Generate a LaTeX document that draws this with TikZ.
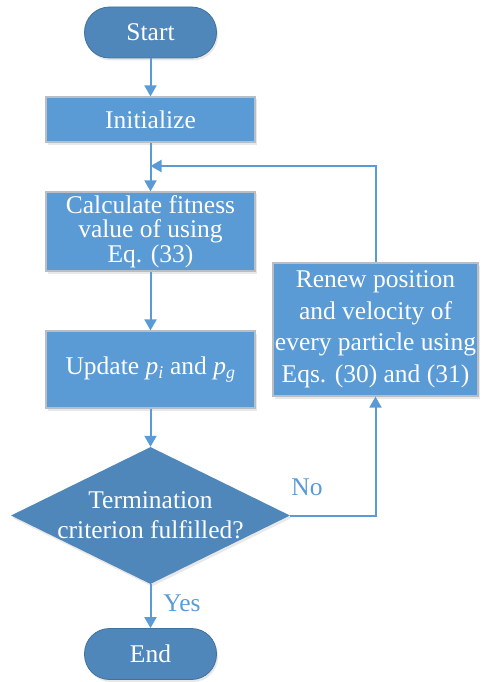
\documentclass[tikz,border=0pt]{standalone}
\usepackage{fontspec}
\setmainfont{Liberation Serif}
\usetikzlibrary{arrows.meta,shapes.geometric,shadows}
\definecolor{termfill}{HTML}{4F87BB}
\definecolor{termline}{HTML}{41719C}
\definecolor{boxfill}{HTML}{5B9BD5}
\definecolor{boxline}{HTML}{B8BEC4}
\definecolor{arrowc}{HTML}{5B9BD5}
\tikzset{
  shad/.style={drop shadow={opacity=0.18,shadow xshift=1.5pt,shadow yshift=-2.5pt}},
  term/.style={shad,rectangle,rounded corners=25pt,fill=termfill,draw=termline,line width=0.8pt,
    minimum width=132pt,minimum height=51pt,text=white,font=\fontsize{25.5}{30}\selectfont},
  procbox/.style={shad,rectangle,fill=boxfill,draw=boxline,line width=1.2pt,text=white,
    minimum width=209pt,align=center},
  decbox/.style={shad,diamond,fill=termfill,draw=none,inner sep=0pt,
    minimum width=279pt,minimum height=137pt,aspect=2.04},
  dectxt/.style={text=white,align=center,font=\fontsize{25.5}{30}\selectfont},
  conn/.style={draw=arrowc,line width=2pt,-{Triangle[width=12pt,length=11pt]}},
  lbl/.style={text=arrowc,font=\fontsize{25.5}{30}\selectfont}
}
\begin{document}
\begin{tikzpicture}[x=1pt,y=-1pt]
\useasboundingbox (0,0) rectangle (480,682);
\node[term] (start) at (150.5,32.5) {Start};
\node[procbox,minimum height=45pt,font=\fontsize{25.5}{30}\selectfont] (init) at (150.5,119.5) {Initialize};
\node[procbox,minimum height=77pt,font=\fontsize{25.5}{24.5}\selectfont] (calc) at (150.5,231.5) {Calculate fitness\\value of using\\Eq. (33)};
\node[procbox,minimum height=77pt,font=\fontsize{25.5}{30}\selectfont] (upd) at (150.5,369.5) {Update \textit{p\textsubscript{i}} and \textit{p\textsubscript{g}}};
\node[procbox,minimum width=205pt,minimum height=133pt,inner sep=0pt,font=\fontsize{25.5}{31.5}\selectfont] (renew) at (375.5,329.5) {Renew position\\and velocity of\\every particle using\\Eqs. (30) and (31)};
\node[decbox] (dec) at (150.5,515.5) {};
\node[dectxt] (dectext) at (150.5,515) {Termination\\criterion fulfilled?};
\node[term] (end) at (150.5,654) {End};
\coordinate (join) at (150.5,166);

\draw[conn] (start) -- (init);
\draw[conn] (init) -- (calc);
\draw[conn] (calc) -- (upd);
\draw[conn] (upd) -- (dec.north);
\draw[conn] (dec.south) -- (end);
\draw[conn] (dec.east) -| (renew.south);
\draw[conn] (renew.north) |- (join);

\node[lbl] (yes) at (182,603) {Yes};
\node[lbl] (no) at (307,487) {No};
\end{tikzpicture}
\end{document}
